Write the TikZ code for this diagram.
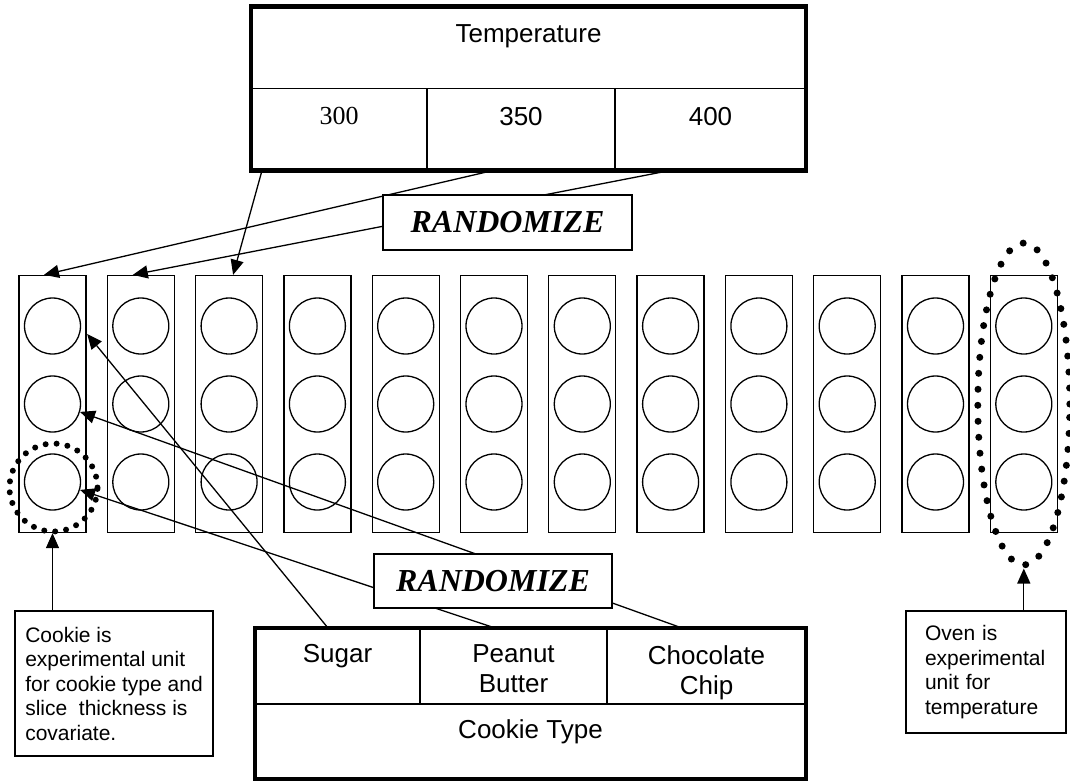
\documentclass[tikz,border=0pt]{standalone}
\usepackage{fontspec}
\setmainfont{Liberation Sans}
\newfontfamily\timesfont{Liberation Serif}
\usetikzlibrary{positioning, arrows.meta, shapes.geometric}
\tikzset{
  tcell/.style={draw, line width=1.7pt, inner sep=0pt, outer sep=0pt},
  tableframe/.style={line width=4.7pt},
  oven/.style={draw, minimum width=67pt, minimum height=257pt, inner sep=0pt},
  cookie/.style={draw, circle, minimum size=56pt, inner sep=0pt},
  lbl/.style={inner sep=0pt, align=center, font=\fontsize{26}{30}\selectfont},
  notebox/.style={draw, align=left, inner ysep=0pt, font=\fontsize{21}{24.5}\selectfont},
  randbox/.style={draw, fill=white, inner sep=0pt, font=\timesfont\bfseries\itshape\fontsize{32}{36}\selectfont},
  ring/.style={draw, line width=6pt, dash pattern=on 0pt off 11pt, line cap=round, inner sep=0pt},
  arr/.style={-{Triangle[length=15pt,width=13pt]}}
}

\begin{document}
\begin{tikzpicture}[x=1pt, y=-1pt, line width=1.3pt]
    \useasboundingbox (0,0) rectangle (1070,782);

    \node[tcell, minimum width=555pt, minimum height=82pt] (temp) at (528.5,47.5) {};
    \node[tcell, minimum width=176pt, minimum height=82pt, anchor=north west] (t300) at (temp.south west) {};
    \node[tcell, minimum width=188pt, minimum height=82pt, anchor=west] (t350) at (t300.east) {};
    \node[tcell, minimum width=191pt, minimum height=82pt, anchor=west] (t400) at (t350.east) {};
    \node[lbl, below=17pt of temp.north] (ltemp) {Temperature};
    \node[lbl, font=\timesfont\fontsize{26}{30}\selectfont, below=18pt of t300.north] (l300) {300};
    \node[lbl, below=18pt of t350.north] (l350) {350};
    \node[lbl, below=18pt of t400.north] (l400) {400};
    \draw[tableframe] (temp.north west) rectangle (t400.south east);

    \foreach \i in {1,...,12} {
      \node[oven] (o\i) at ({52.5+88.3*(\i-1)},404) {};
      \foreach \j/\y in {1/326,2/404,3/482}
        \node[cookie] (c-\i-\j) at ({52.5+88.3*(\i-1)},\y) {};
    }

    \node[ring, circle, minimum size=88pt] (cring) at (53.5,487.5) {};
    \node[ring, ellipse, line width=7pt, dash pattern=on 0pt off 16pt, minimum width=92pt, minimum height=322pt] (oring) at (o12) {};

    \node[tcell, minimum width=165pt, minimum height=76pt] (sugar) at (337.5,666) {};
    \node[tcell, minimum width=187pt, minimum height=76pt, anchor=west] (peanut) at (sugar.east) {};
    \node[tcell, minimum width=199pt, minimum height=76pt, anchor=west] (choc) at (peanut.east) {};
    \node[tcell, minimum width=551pt, minimum height=75pt, anchor=north west] (ctype) at (sugar.south west) {};
    \node[lbl, below=16pt of sugar.north] (lsugar) {Sugar};
    \node[lbl, below=16pt of peanut.north] (lpeanut) {Peanut\\Butter};
    \node[lbl, below=17pt of choc.north] (lchoc) {Chocolate\\Chip};
    \node[lbl, below=15pt of ctype.north] (ltype) {Cookie Type};
    \draw[tableframe] (sugar.north west) rectangle (ctype.south east);

    \node[notebox, minimum width=198pt, minimum height=145pt] (cbox) at (114,683.5)
      {Cookie is\\experimental unit\\for cookie type and\\slice~ thickness is\\covariate.};
    \node[notebox, text width=122pt, inner xsep=19pt, minimum height=122pt] (obox) at (986,672)
      {Oven is\\experimental\\unit for\\temperature};

    \draw[arr] (cbox.north -| o1) -- (o1.south);
    \draw[arr] (obox.north -| o12) -- (oring.south);

    \draw[arr] ([xshift=11pt]t300.south west) -- ([xshift=4pt]o3.north);
    \draw[arr] ([xshift=66pt]t350.south west) -- ([xshift=-8.5pt]o1.north);
    \draw[arr] ([xshift=55pt]t400.south west) -- ([xshift=-8pt]o2.north);

    \draw[arr] ([xshift=73pt]sugar.north west) -- ([xshift=6pt,yshift=-8pt]c-1-1.east);
    \draw[arr] ([xshift=75pt]peanut.north west) -- (c-1-3.-16);
    \draw[arr] ([xshift=75pt]choc.north west) -- (c-1-2.-16);

    \node[randbox, minimum width=249pt, minimum height=55pt] (rtop) at (507.5,222.5) {RANDOMIZE};
    \node[randbox, minimum width=238pt, minimum height=54pt] (rbot) at (493,581) {RANDOMIZE};
\end{tikzpicture}
\end{document}
